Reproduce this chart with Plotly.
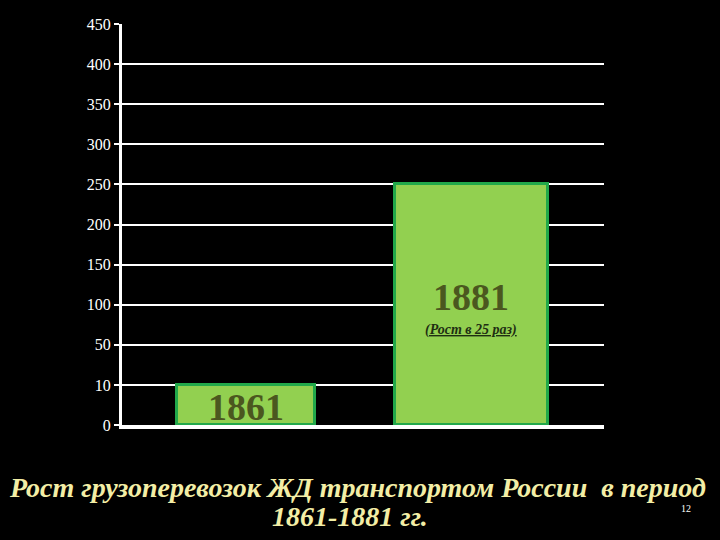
import numpy as np
import plotly.graph_objects as go

# данные
years = ["1861", "1881"]
freight = [10, 250]
tick_values = [0, 10, 50, 100, 150, 200, 250, 300, 350, 400, 450]
tick_labels = [str(v) for v in tick_values]
growth_note = "(Рост в 25 раз)"
title_lines = ["Рост грузоперевозок ЖД транспортом России  в период", "1861-1881 гг."]
slide_no = "12"

# ось у неравномерная: каждое деление занимает одинаковый шаг
tick_pos = np.arange(len(tick_values))


def to_axis(v):
    return np.interp(v, tick_values, tick_pos)


bar_y = [float(to_axis(v)) for v in freight]
x_idx = list(range(len(years)))

fig = go.Figure()
fig.add_trace(go.Bar(
    x=x_idx, y=bar_y,
    width=[0.61, 0.68],
    marker=dict(color="#92D050", line=dict(color="#21A84A", width=3)),
    hoverinfo="skip",
    showlegend=False,
))

# подписи внутри столбиков
fig.add_annotation(
    x=x_idx[0], y=bar_y[0] / 2 - 0.05, xref="x", yref="y",
    text=f"<b>{years[0]}</b>", showarrow=False,
    font=dict(family="Liberation Serif, serif", size=38, color="#4B571F"),
)
fig.add_annotation(
    x=x_idx[1], y=bar_y[1] / 2 + 0.2, xref="x", yref="y",
    text=f"<b>{years[1]}</b>", showarrow=False,
    font=dict(family="Liberation Serif, serif", size=38, color="#4B571F"),
)
fig.add_annotation(
    x=x_idx[1], y=bar_y[1] / 2 - 0.62, xref="x", yref="y",
    text=f"<b><i><u>{growth_note}</u></i></b>", showarrow=False,
    font=dict(family="Liberation Serif, serif", size=14, color="#1E2E12"),
)

# заголовок
title_font = dict(family="Liberation Serif, serif", size=28, color="#F3EEA6")
fig.add_annotation(
    x=0.4896, y=-0.157, xref="paper", yref="paper",
    text=f"<b><i>{title_lines[0]}</i></b>", showarrow=False,
    font=title_font, xanchor="center", yanchor="middle",
)
fig.add_annotation(
    x=0.473, y=-0.229, xref="paper", yref="paper",
    text=f"<b><i>{title_lines[1]}</i></b>", showarrow=False,
    font=title_font, xanchor="center", yanchor="middle",
)
fig.add_annotation(
    x=1.170, y=-0.207, xref="paper", yref="paper",
    text=slide_no, showarrow=False,
    font=dict(family="Liberation Serif, serif", size=10, color="#FFFFFF"),
    xanchor="center", yanchor="middle",
)

fig.update_layout(
    width=720, height=540,
    margin=dict(l=122, r=116, t=24, b=115),
    paper_bgcolor="#000000", plot_bgcolor="#000000",
    bargap=0,
    xaxis=dict(
        range=[-0.551, 1.591], showgrid=False, zeroline=False,
        showticklabels=False, ticks="",
        showline=True, linecolor="#FFFFFF", linewidth=4,
    ),
    yaxis=dict(
        range=[0, tick_pos[-1]],
        tickvals=tick_pos, ticktext=tick_labels,
        showgrid=True, gridcolor="#FFFFFF", gridwidth=2,
        zeroline=False,
        showline=True, linecolor="#FFFFFF", linewidth=3,
        ticks="outside", ticklen=5, tickcolor="#FFFFFF", tickwidth=2,
        tickfont=dict(family="Liberation Serif, serif", size=16, color="#FFFFFF"),
    ),
)

fig.write_html(
    "out.html",
    config={"displayModeBar": False},
    post_script="document.body.style.margin='0';document.body.style.background='#000';",
)
